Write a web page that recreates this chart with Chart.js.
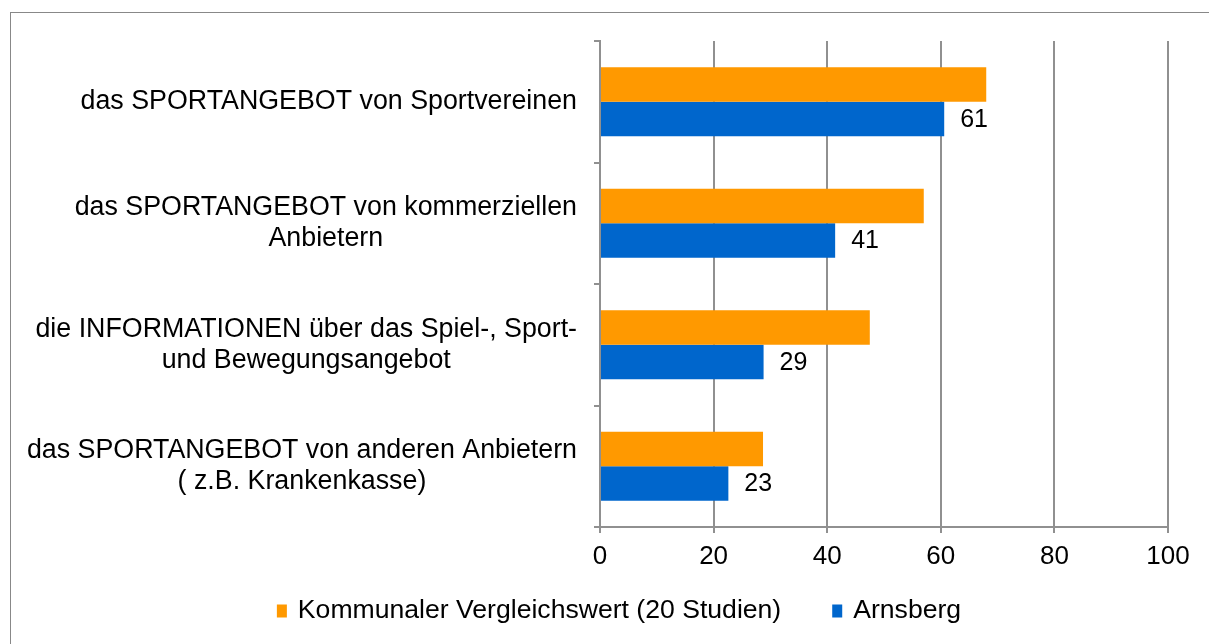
<!DOCTYPE html>
<html>
<head>
<meta charset="utf-8">
<script src="https://cdn.jsdelivr.net/npm/chart.js@4/dist/chart.umd.min.js"></script>
<style>
   html, body { margin: 0; padding: 0; background: #fff; overflow: hidden; }
   #frame {
      position: absolute; left: 10px; top: 12px;
      width: 1400px; height: 800px;
      border: 1px solid #888;
   }
   #wrap { position: absolute; left: 0; top: 0; width: 1209px; height: 644px; }
</style>
</head>
<body>
<div id="frame"></div>
<div id="wrap"><canvas id="bars"></canvas></div>
<script>
const categories = [
   ["das SPORTANGEBOT von Sportvereinen"],
   ["das SPORTANGEBOT von kommerziellen", "Anbietern"],
   ["die INFORMATIONEN über das Spiel-, Sport-", "und Bewegungsangebot"],
   ["das SPORTANGEBOT von anderen Anbietern", "( z.B. Krankenkasse)"],
];
const seriesNames = ["Kommunaler Vergleichswert (20 Studien)", "Arnsberg"];
const seriesColors = ["#FF9900", "#0066CC"];
const vergleichValues = [68, 57, 47.5, 28.7];
const arnsbergValues = [60.6, 41.4, 28.8, 22.6];
const xTickMin = 0;
const xTickMax = 100;
const xTickStep = 20;

const fontFamily = '"Liberation Sans", Arial, sans-serif';
const gridColor = "#909090";

// category labels: block right-aligned at the axis, lines centered inside
const categoryLabels = {
   id: "categoryLabels",
   afterDraw(chart) {
      const yScale = chart.scales.y;
      const ctx = chart.ctx;
      ctx.save();
      ctx.font = "26.8px " + fontFamily;
      ctx.fillStyle = "#000";
      ctx.textAlign = "center";
      ctx.textBaseline = "middle";
      categories.forEach((lines, i) => {
         const widest = Math.max(...lines.map((l) => ctx.measureText(l).width));
         const cx = yScale.right - 23 - widest / 2;
         const cy = yScale.getPixelForTick(i);
         lines.forEach((line, j) => {
            ctx.fillText(line, cx, cy + (j - (lines.length - 1) / 2) * 31);
         });
      });
      ctx.restore();
   },
};

// value labels to the right of the Arnsberg bars
const valueLabels = {
   id: "valueLabels",
   afterDatasetsDraw(chart) {
      const ctx = chart.ctx;
      const meta = chart.getDatasetMeta(1);
      ctx.save();
      ctx.font = "25px " + fontFamily;
      ctx.fillStyle = "#000";
      ctx.textAlign = "left";
      ctx.textBaseline = "middle";
      meta.data.forEach((bar, i) => {
         ctx.fillText(String(Math.round(arnsbergValues[i])), bar.x + 16, bar.y + 1);
      });
      ctx.restore();
   },
};

// legend row under the axis, wide gap between the two entries
const bottomLegend = {
   id: "bottomLegend",
   afterDraw(chart) {
      const ctx = chart.ctx;
      const boxW = 10;
      const boxH = 13;
      const textGap = 11;
      const itemGap = 51;
      const centerX = 619;
      const centerY = 611;
      ctx.save();
      ctx.font = "26.6px " + fontFamily;
      ctx.textAlign = "left";
      ctx.textBaseline = "middle";
      const items = chart.data.datasets.map((ds) => ({
         text: ds.label,
         color: ds.backgroundColor,
         width: boxW + textGap + ctx.measureText(ds.label).width,
      }));
      const total = items.reduce((s, it) => s + it.width, 0) + itemGap * (items.length - 1);
      let x = centerX - total / 2;
      items.forEach((it) => {
         ctx.fillStyle = it.color;
         ctx.fillRect(x, centerY - boxH / 2, boxW, boxH);
         ctx.fillStyle = "#000";
         ctx.fillText(it.text, x + boxW + textGap, centerY);
         x += it.width + itemGap;
      });
      ctx.restore();
   },
};

new Chart(document.getElementById("bars"), {
   type: "bar",
   data: {
      labels: categories,
      datasets: [
         {
            label: seriesNames[0],
            data: vergleichValues,
            backgroundColor: seriesColors[0],
         },
         {
            label: seriesNames[1],
            data: arnsbergValues,
            backgroundColor: seriesColors[1],
         },
      ],
   },
   options: {
      indexAxis: "y",
      responsive: true,
      maintainAspectRatio: false,
      animation: false,
      categoryPercentage: 0.568,
      barPercentage: 1,
      layout: {
         padding: { left: 70, right: 41, top: 41, bottom: 0 },
      },
      scales: {
         x: {
            min: xTickMin,
            max: xTickMax,
            ticks: {
               stepSize: xTickStep,
               color: "#000",
               padding: 8,
               font: { size: 26, family: fontFamily },
            },
            grid: { color: gridColor, lineWidth: 2, tickLength: 6 },
            border: { color: gridColor, width: 2 },
            afterFit: (scale) => {
               scale.height = 117;
            },
         },
         y: {
            ticks: {
               color: "rgba(0,0,0,0)",
               font: { size: 26, family: fontFamily },
            },
            grid: {
               offset: true,
               drawOnChartArea: false,
               color: gridColor,
               lineWidth: 2,
               tickLength: 6,
            },
            border: { color: gridColor, width: 2 },
            afterFit: (scale) => {
               scale.width = 530;
            },
         },
      },
      plugins: {
         legend: { display: false },
         tooltip: { enabled: false },
      },
   },
   plugins: [categoryLabels, valueLabels, bottomLegend],
});
</script>
</body>
</html>
